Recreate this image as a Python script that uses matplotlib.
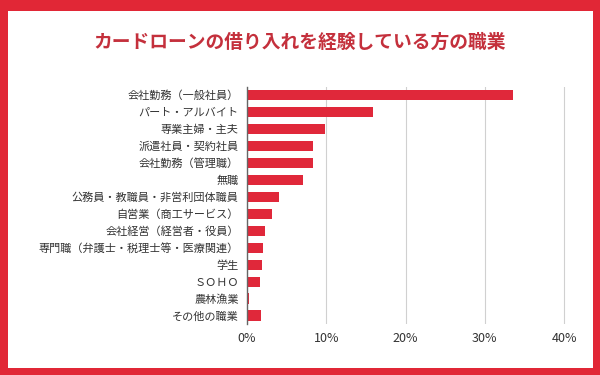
import matplotlib
matplotlib.use("Agg")
import matplotlib.pyplot as plt
from matplotlib.patches import Rectangle

plt.rcParams['font.family'] = ['Noto Sans CJK JP', 'DejaVu Sans']

categories = [
    "会社勤務（一般社員）",
    "パート・アルバイト",
    "専業主婦・主夫",
    "派遣社員・契約社員",
    "会社勤務（管理職）",
    "無職",
    "公務員・教職員・非営利団体職員",
    "自営業（商工サービス）",
    "会社経営（経営者・役員）",
    "専門職（弁護士・税理士等・医療関連）",
    "学生",
    "ＳＯＨＯ",
    "農林漁業",
    "その他の職業",
]
values = [33.5, 15.9, 9.9, 8.3, 8.3, 7.1, 4.0, 3.1, 2.3, 2.0, 1.85, 1.6, 0.3, 1.8]
xticks = [0, 10, 20, 30, 40]
xticklabels = ["0%", "10%", "20%", "30%", "40%"]
title = "カードローンの借り入れを経験している方の職業"

border_red = "#e12736"
bar_red = "#e0283a"
title_red = "#c4303c"

fig = plt.figure(figsize=(6, 3.75), dpi=100)
fig.patch.set_facecolor(border_red)
fig.add_artist(Rectangle((8/600, 7/375), (593-8)/600, (366-9)/375,
                         transform=fig.transFigure, facecolor="white",
                         edgecolor="none", zorder=0))

ax = fig.add_axes([247/600, 1-324/375, 333/600, (324-86.5)/375])
ax.set_facecolor("none")
y = list(range(len(categories)))
ax.barh(y, values, height=0.6, color=bar_red, zorder=3)
ax.set_ylim(len(categories)-0.5, -0.5)
ax.set_xlim(0, 42)
ax.set_yticks(y)
ax.set_yticklabels(categories, fontsize=8, color="#333333")
ax.set_xticks(xticks)
ax.set_xticklabels(xticklabels, fontsize=9, color="#333333")
ax.tick_params(axis='both', length=0)
ax.tick_params(axis='y', pad=6)
ax.tick_params(axis='x', pad=6)
for s in ["top", "right", "bottom"]:
    ax.spines[s].set_visible(False)
ax.spines["left"].set_color("#666666")
ax.spines["left"].set_linewidth(1)
ax.spines["left"].set_zorder(4)
ax.grid(axis='x', color="#d0d0d0", linewidth=0.8, zorder=0)

fig.text(0.5, 1-42/375, title, ha="center", va="center", fontsize=13.5,
         fontweight="bold", color=title_red)

fig.savefig("out.png", dpi=100, facecolor=fig.get_facecolor())
